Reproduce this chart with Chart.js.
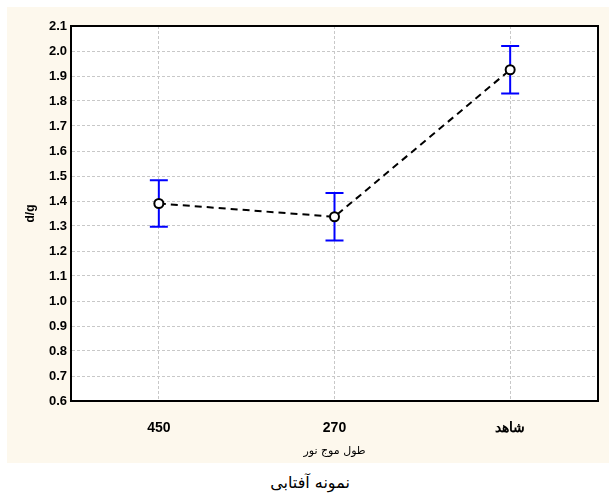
<!DOCTYPE html>
<html>
<head>
<meta charset="utf-8">
<script src="https://cdn.jsdelivr.net/npm/chart.js@4"></script>
<style>
    body { margin: 0; background: #fff; }
    #wrap { padding: 7px 0 0 7px; width: 602px; height: 456px; }
    #title { width: 598px; padding-left: 11px; height: 34px; line-height: 40px; text-align: center;
             font-family: "DejaVu Sans", sans-serif; font-size: 16px; color: #000; }
</style>
</head>
<body>
<div id="wrap"><canvas id="lineChart" width="602" height="456"></canvas></div>
<div id="title" dir="rtl">نمونه آفتابی</div>
<script>
const categories = ["450", "270", "شاهد"];
const means = [1.39, 1.337, 1.925];
const errors = [0.093, 0.095, 0.095];
const yMin = 0.6;
const yMax = 2.1;

// beige page, white plot area, black frame
const background = {
    id: "background",
    beforeDraw(chart) {
        const { ctx, chartArea: a } = chart;
        ctx.save();
        ctx.fillStyle = "#fdf8ed";
        ctx.fillRect(0, 0, chart.width, chart.height);
        ctx.fillStyle = "#ffffff";
        ctx.fillRect(a.left, a.top, a.right - a.left, a.bottom - a.top);
        ctx.restore();
    },
    afterDraw(chart) {
        const { ctx, chartArea: a } = chart;
        ctx.save();
        ctx.strokeStyle = "#000";
        ctx.lineWidth = 2;
        ctx.strokeRect(a.left, a.top, a.right - a.left, a.bottom - a.top);
        ctx.restore();
    },
};

// vertical error bars drawn through the scales
const errorBars = {
    id: "errorBars",
    beforeDatasetsDraw(chart) {
        const { ctx, scales } = chart;
        ctx.save();
        ctx.strokeStyle = "#0000ff";
        ctx.lineWidth = 2;
        means.forEach((m, i) => {
            const x = scales.x.getPixelForValue(i);
            const yTop = scales.y.getPixelForValue(m + errors[i]);
            const yBot = scales.y.getPixelForValue(m - errors[i]);
            ctx.beginPath();
            ctx.moveTo(x, yTop);
            ctx.lineTo(x, yBot);
            ctx.moveTo(x - 9, yTop);
            ctx.lineTo(x + 9, yTop);
            ctx.moveTo(x - 9, yBot);
            ctx.lineTo(x + 9, yBot);
            ctx.stroke();
        });
        ctx.restore();
    },
};

new Chart(document.getElementById("lineChart"), {
    type: "line",
    data: {
        labels: categories,
        datasets: [
            {
                label: "d/g",
                data: means,
                borderColor: "#000",
                borderWidth: 2,
                borderDash: [7, 5],
                tension: 0,
                pointRadius: 4.5,
                pointBackgroundColor: "#fff",
                pointBorderColor: "#000",
                pointBorderWidth: 2,
            },
        ],
    },
    options: {
        responsive: false,
        animation: false,
        layout: { padding: { top: 19, right: 11, left: 0, bottom: 0 } },
        plugins: {
            legend: { display: false },
            tooltip: { enabled: false },
        },
        scales: {
            x: {
                offset: true,
                afterFit: (s) => { s.height = 62; },
                grid: { offset: false, color: "#c8c8c8", drawTicks: false, tickLength: 0 },
                border: { color: "#000", width: 2, dash: [3, 2] },
                ticks: { color: "#000", padding: 19, font: { family: "Liberation Sans", size: 14, weight: "bold" } },
                title: {
                    display: true,
                    text: "طول موج نور",
                    color: "#000",
                    padding: { top: 0, bottom: 5 },
                    font: { family: "DejaVu Sans", size: 11 },
                },
            },
            y: {
                min: yMin,
                max: yMax,
                afterFit: (s) => { s.width = 64; },
                grid: { color: "#c8c8c8", drawTicks: false, tickLength: 0 },
                border: { color: "#000", width: 2, dash: [3, 2] },
                ticks: {
                    stepSize: 0.1,
                    color: "#000",
                    padding: 4,
                    font: { family: "Liberation Sans", size: 13, weight: "bold" },
                    callback: (v) => Number(v).toFixed(1),
                },
                title: {
                    display: true,
                    text: "d/g",
                    color: "#000",
                    padding: { top: 16, bottom: 0 },
                    font: { family: "Liberation Sans", size: 12, weight: "bold" },
                },
            },
        },
    },
    plugins: [background, errorBars],
});
</script>
</body>
</html>
